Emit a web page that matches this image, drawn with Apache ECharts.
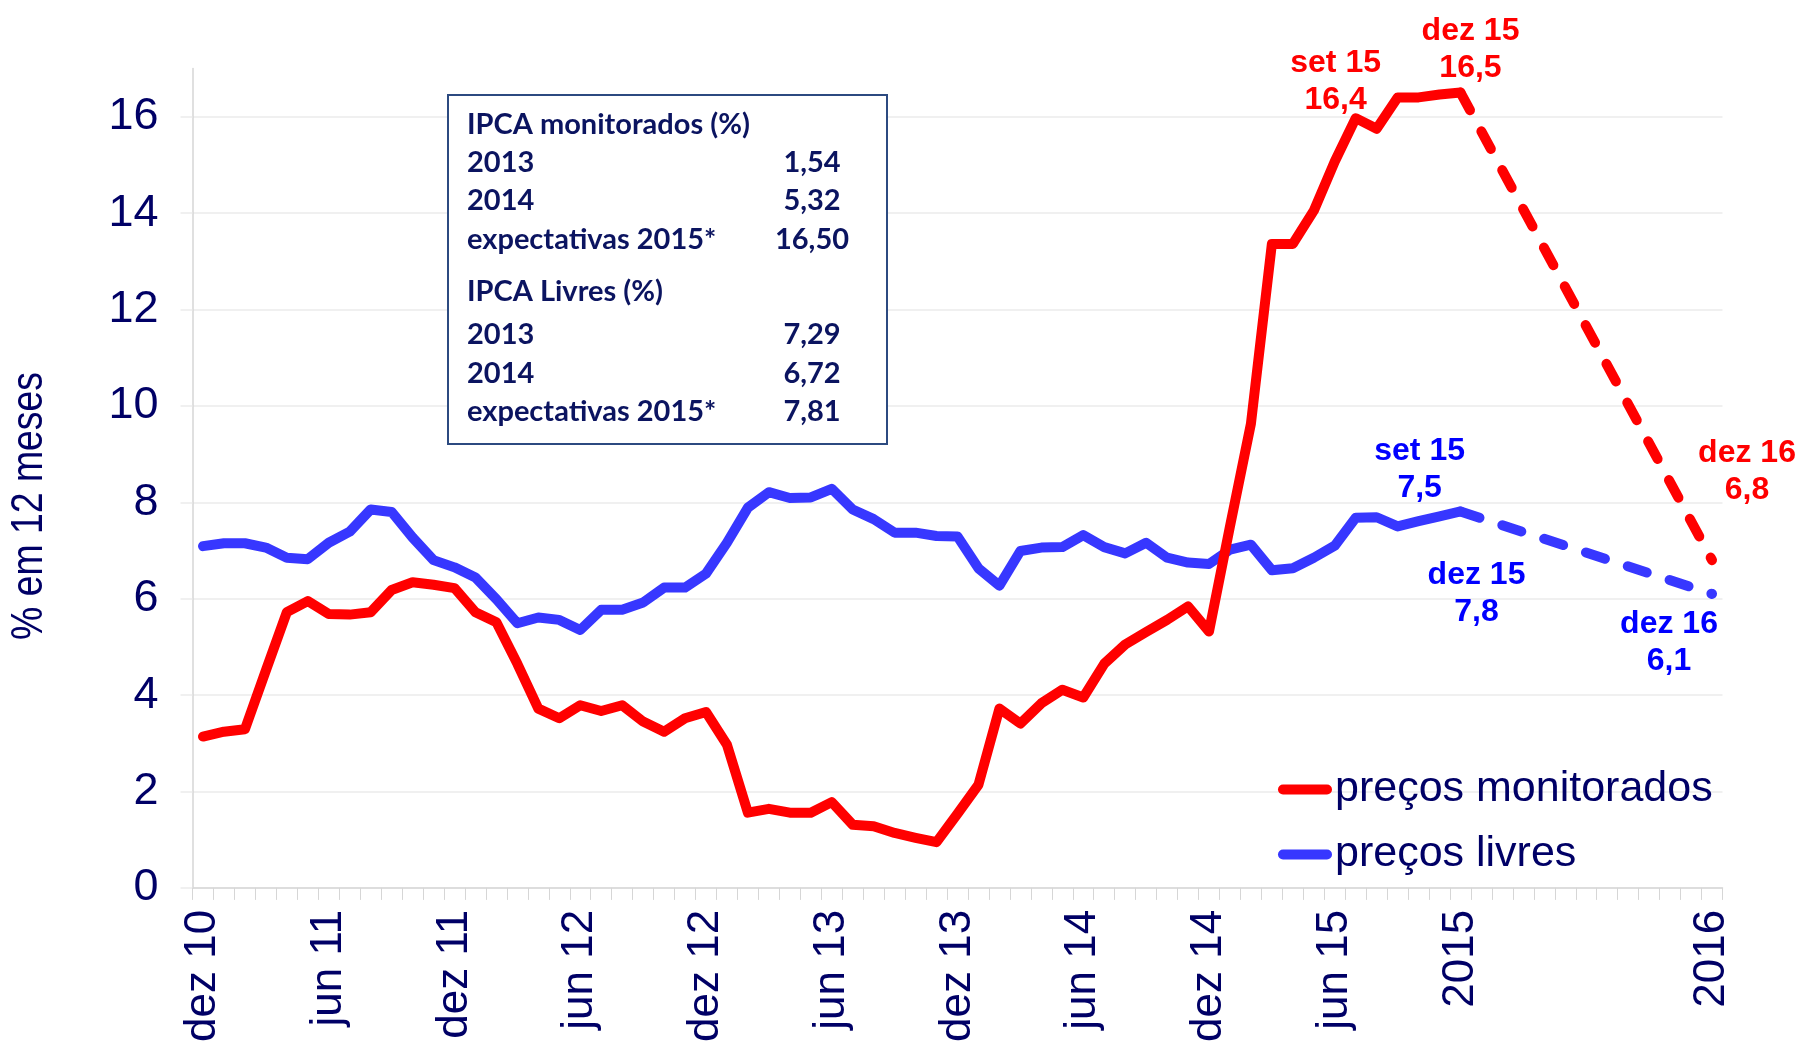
<!DOCTYPE html>
<html>
<head>
<meta charset="utf-8">
<script src="https://cdn.jsdelivr.net/npm/echarts@6/dist/echarts.min.js"></script>
<style>
  html, body { margin: 0; padding: 0; background: #ffffff; }
  #chart { width: 1801px; height: 1045px; }
</style>
</head>
<body>
<div id="chart"></div>
<script>
// ---- data -----------------------------------------------------------
const monthNames = ['jan', 'fev', 'mar', 'abr', 'mai', 'jun', 'jul', 'ago', 'set', 'out', 'nov', 'dez'];

// monthly categories from dez 10 to dez 16
const categories = ['dez 10'];
for (let y = 11; y <= 16; y++) {
  for (const m of monthNames) categories.push(m + ' ' + y);
}

// months that carry a tick label, and the text shown for them
const labelledTicks = ['dez 10', 'jun 11', 'dez 11', 'jun 12', 'dez 12', 'jun 13', 'dez 13',
                       'jun 14', 'dez 14', 'jun 15', 'dez 15', 'dez 16'];
const xTickLabels = { 'dez 15': '2015', 'dez 16': '2016' };

// IPCA, % over 12 months, dez 10 .. dez 15
const monitorados = [
  3.14, 3.24, 3.29, 4.51, 5.72, 5.95, 5.68, 5.67, 5.72, 6.18, 6.34, 6.29,
  6.22, 5.72, 5.51, 4.65, 3.72, 3.52, 3.79, 3.67, 3.79, 3.45, 3.24, 3.52,
  3.65, 2.97, 1.56, 1.64, 1.56, 1.56, 1.78, 1.31, 1.28, 1.14, 1.04, 0.95,
  1.54, 2.14, 3.72, 3.41, 3.83, 4.11, 3.95, 4.65, 5.05, 5.31, 5.56, 5.84,
  5.32, 7.50, 9.63, 13.36, 13.36, 14.05, 15.07, 15.97, 15.75, 16.40, 16.40, 16.46,
  16.50
];
const livres = [
  7.09, 7.15, 7.15, 7.06, 6.85, 6.82, 7.16, 7.39, 7.85, 7.80, 7.27, 6.80,
  6.65, 6.44, 5.99, 5.49, 5.61, 5.56, 5.35, 5.77, 5.77, 5.92, 6.23, 6.23,
  6.52, 7.16, 7.89, 8.21, 8.09, 8.10, 8.28, 7.85, 7.65, 7.37, 7.37, 7.30,
  7.29, 6.63, 6.27, 6.99, 7.06, 7.07, 7.32, 7.07, 6.94, 7.16, 6.85, 6.75,
  6.72, 7.02, 7.12, 6.59, 6.63, 6.85, 7.10, 7.68, 7.69, 7.50, 7.61, 7.71,
  7.81
];

// expected values for dez 16
const expectMonitoradosDez16 = 6.8;
const expectLivresDez16 = 6.1;

// summary table
const tableMonitoradosTitle = 'IPCA monitorados (%)';
const tableMonitoradosRows = [['2013', '1,54'], ['2014', '5,32'], ['expectativas 2015*', '16,50']];
const tableLivresTitle = 'IPCA Livres (%)';
const tableLivresRows = [['2013', '7,29'], ['2014', '6,72'], ['expectativas 2015*', '7,81']];

const yTicks = [0, 2, 4, 6, 8, 10, 12, 14, 16];
const seriesNames = ['preços monitorados', 'preços livres'];
const yAxisTitle = '% em 12 meses';

// ---- helpers --------------------------------------------------------
const lastActual = categories[monitorados.length - 1];          // dez 15
const projMonitorados = [[lastActual, monitorados[monitorados.length - 1]], ['dez 16', expectMonitoradosDez16]];
const projLivres = [[lastActual, livres[livres.length - 1]], ['dez 16', expectLivresDez16]];

function valueOf(actual, proj, month) {
  const i = categories.indexOf(month);
  if (i < actual.length) return actual[i];
  const p = proj.find(d => d[0] === month);
  return p ? p[1] : null;
}

const fmt = v => v.toFixed(1).replace('.', ',');

const NAVY = '#000066';
const RED = '#ff0000';
const BLUE_LINE = '#3737ff';
const BLUE_TEXT = '#0000ff';
const AXIS_GREY = '#d6d6d6';
const GRID_GREY = '#ebebeb';
const BASE_FONT = "'Liberation Sans', Arial, sans-serif";

function callout(actual, proj, month, offset) {
  const v = valueOf(actual, proj, month);
  return { name: month, coord: [month, v], value: v, label: { offset: offset } };
}

function calloutStyle(color) {
  return {
    symbol: 'circle',
    symbolSize: 1,
    itemStyle: { color: 'rgba(0,0,0,0)' },
    label: {
      show: true,
      position: 'inside',
      color: color,
      fontFamily: BASE_FONT,
      fontWeight: 'bold',
      fontSize: 32,
      lineHeight: 37,
      align: 'center',
      formatter: p => p.name + '\n' + fmt(p.value)
    }
  };
}

// ---- chart ----------------------------------------------------------
const chart = echarts.init(document.getElementById('chart'), null, { renderer: 'canvas' });

const tableFont = "bold 29px Lato, 'Liberation Sans', sans-serif";
const TABLE_COLOR = '#0b1460';
const tableLeft = 467, tableValueX = 812;
const overlay = [
  { type: 'rect', left: 447, top: 94, shape: { width: 439, height: 349 },
    style: { fill: '#ffffff', stroke: '#2c4a80', lineWidth: 2 }, z: 10 }
];
function addText(text, x, y, align) {
  overlay.push({ type: 'text', x: x, y: y, z: 11,
    style: { text: text, font: tableFont, fill: TABLE_COLOR, align: align, verticalAlign: 'middle' } });
}
addText(tableMonitoradosTitle, tableLeft, 125, 'left');
[162.7, 200.7, 239.3].forEach((y, k) => {
  addText(tableMonitoradosRows[k][0], tableLeft, y, 'left');
  addText(tableMonitoradosRows[k][1], tableValueX, y, 'center');
});
addText(tableLivresTitle, tableLeft, 291.7, 'left');
[335, 373.3, 411.7].forEach((y, k) => {
  addText(tableLivresRows[k][0], tableLeft, y, 'left');
  addText(tableLivresRows[k][1], tableValueX, y, 'center');
});

// vertical axis title, condensed along the text direction
overlay.push({
  type: 'text', x: 30, y: 506, rotation: Math.PI / 2, scaleX: 0.83, z: 11,
  style: { text: yAxisTitle, font: "45px 'Liberation Sans', Arial, sans-serif", fill: NAVY,
           align: 'center', verticalAlign: 'middle' }
});

const solidLine = (color) => ({ color: color, width: 10, cap: 'round', join: 'round' });
const dashedLine = (color) => ({ color: color, width: 10, cap: 'round', join: 'round', type: [20, 24] });

chart.setOption({
  animation: false,
  backgroundColor: '#ffffff',
  grid: { left: 192.5, right: 78.5, top: 68.5, bottom: 153, containLabel: false },
  legend: {
    data: seriesNames,
    orient: 'vertical',
    left: 1273,
    top: 763,
    itemGap: 22,
    itemWidth: 54,
    itemHeight: 10,
    icon: 'path://M5,0 H49 A5,5 0 0 1 49,10 H5 A5,5 0 0 1 5,0 Z',
    textStyle: { color: NAVY, fontSize: 43, fontFamily: BASE_FONT, padding: [0, 0, 0, -2] }
  },
  xAxis: {
    type: 'category',
    data: categories,
    boundaryGap: true,
    axisLine: { show: true, lineStyle: { color: AXIS_GREY, width: 1.5 } },
    axisTick: { show: true, interval: 0, length: 12, lineStyle: { color: AXIS_GREY, width: 1 } },
    axisLabel: {
      interval: (idx, value) => labelledTicks.indexOf(value) >= 0,
      rotate: 90,
      margin: 22,
      color: NAVY,
      fontSize: 44,
      fontFamily: BASE_FONT,
      formatter: v => xTickLabels[v] || v
    },
    splitLine: { show: false }
  },
  yAxis: {
    type: 'value',
    min: 0,
    max: 17,
    interval: 2,
    axisLine: { show: true, lineStyle: { color: AXIS_GREY, width: 1.5 } },
    axisTick: { show: true, length: 12, lineStyle: { color: GRID_GREY, width: 1.5 } },
    axisLabel: {
      showMaxLabel: false,
      margin: 34,
      color: NAVY,
      fontSize: 45,
      fontFamily: BASE_FONT,
      formatter: v => (yTicks.indexOf(v) >= 0 ? String(v) : '')
    },
    splitLine: { show: true, showMaxLine: false, lineStyle: { color: GRID_GREY, width: 1.5 } }
  },
  graphic: overlay,
  series: [
    {
      name: seriesNames[0],
      type: 'line',
      data: monitorados,
      symbol: 'none',
      lineStyle: solidLine(RED),
      itemStyle: { color: RED },
      z: 3,
      markPoint: Object.assign(calloutStyle(RED), {
        data: [
          callout(monitorados, projMonitorados, 'set 15', [-62, -16]),
          callout(monitorados, projMonitorados, 'dez 15', [10, -43])
        ]
      })
    },
    {
      name: seriesNames[1],
      type: 'line',
      data: livres,
      symbol: 'none',
      lineStyle: solidLine(BLUE_LINE),
      itemStyle: { color: BLUE_LINE },
      z: 2,
      markPoint: Object.assign(calloutStyle(BLUE_TEXT), {
        data: [
          callout(livres, projLivres, 'set 15', [22, -57]),
          callout(livres, projLivres, 'dez 15', [16, 82])
        ]
      })
    },
    {
      name: seriesNames[0],
      type: 'line',
      data: projMonitorados,
      symbol: 'none',
      lineStyle: dashedLine(RED),
      itemStyle: { color: RED },
      z: 3,
      markPoint: Object.assign(calloutStyle(RED), {
        data: [callout(monitorados, projMonitorados, 'dez 16', [35, -88])]
      })
    },
    {
      name: seriesNames[1],
      type: 'line',
      data: projLivres,
      symbol: 'none',
      lineStyle: dashedLine(BLUE_LINE),
      itemStyle: { color: BLUE_LINE },
      z: 2,
      markPoint: Object.assign(calloutStyle(BLUE_TEXT), {
        data: [callout(livres, projLivres, 'dez 16', [-43, 49])]
      })
    }
  ]
});
</script>
</body>
</html>
